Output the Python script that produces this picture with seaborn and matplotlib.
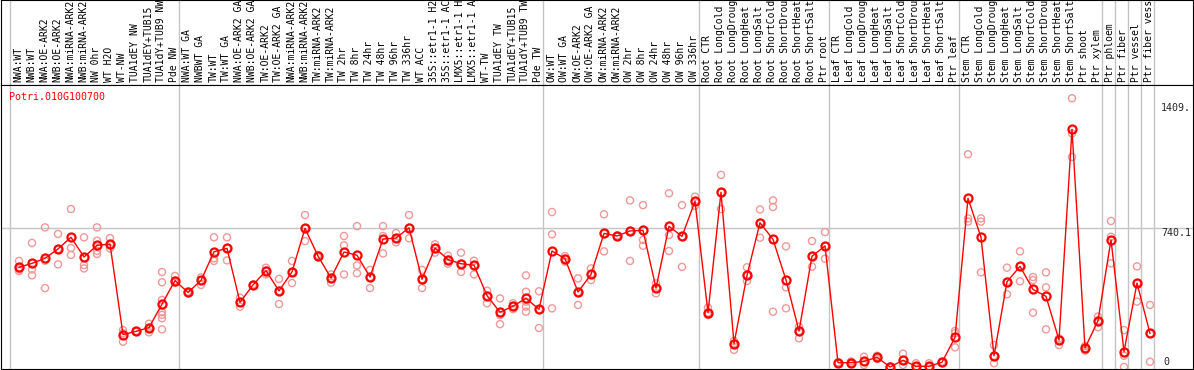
import numpy as np
import pandas as pd
import matplotlib
matplotlib.use("Agg")
import matplotlib.pyplot as plt
import matplotlib.transforms as mtransforms
import seaborn as sns

# ---- data ----
gene = "Potri.010G100700"

# sample names as shown in the header (the source truncates them to 14 characters)
labels = [
    # NW
    "NWA:WT", "NWB:WT", "NWA:OE-ARK2", "NWB:OE-ARK2", "NWA:miRNA-ARK2", "NWB:miRNA-ARK2",
    "NW 0hr", "WT H2O", "WT-NW", "TUA1dEY NW", "TUA1dEY+TUB15", "TUA1dY+TUB9 NW", "Pde NW",
    # TW
    "NWA:WT GA", "NWBWT GA", "TW:WT", "TW:WT GA", "NWA:OE-ARK2 GA", "NWB:OE-ARK2 GA",
    "TW:OE-ARK2", "TW:OE-ARK2 GA", "NWA:miRNA-ARK2", "NWB:miRNA-ARK2", "TW:miRNA-ARK2",
    "TW:miRNA-ARK2", "TW 2hr", "TW 8hr", "TW 24hr", "TW 48hr", "TW 96hr", "TW 336hr",
    "WT ACC", "35S::etr1-1 H2", "35S::etr1-1 AC", "LMX5::etr1-1 H", "LMX5::etr1-1 A",
    "WT-TW", "TUA1dEY TW", "TUA1dEY+TUB15", "TUA1dY+TUB9 TW", "Pde TW",
    # OW
    "OW:WT", "OW:WT GA", "OW:OE-ARK2", "OW:OE-ARK2 GA", "OW:miRNA-ARK2", "OW:miRNA-ARK2",
    "OW 2hr", "OW 8hr", "OW 24hr", "OW 48hr", "OW 96hr", "OW 336hr",
    # Root
    "Root CTR", "Root LongCold", "Root LongDroug", "Root LongHeat", "Root LongSalt",
    "Root ShortCold", "Root ShortDrou", "Root ShortHeat", "Root ShortSalt", "Ptr root",
    # Leaf
    "Leaf CTR", "Leaf LongCold", "Leaf LongDroug", "Leaf LongHeat", "Leaf LongSalt",
    "Leaf ShortCold", "Leaf ShortDrou", "Leaf ShortHeat", "Leaf ShortSalt", "Ptr leaf",
    # Stem
    "Stem CTR", "Stem LongCold", "Stem LongDroug", "Stem LongHeat", "Stem LongSalt",
    "Stem ShortCold", "Stem ShortDrou", "Stem ShortHeat", "Stem ShortSalt", "Ptr shoot",
    "Ptr xylem",
    "Ptr phloem", "Ptr fiber", "Ptr vessel", "Ptr fiber vess",
]
group_sizes = [13, 28, 12, 10, 10, 11, 1, 1, 1, 1]

means = [
    532, 553, 580, 630, 692, 587, 649, 656, 173, 190, 210, 336, 461,
    398, 462, 615, 633, 345, 438, 514, 406, 507, 740, 592, 475, 614, 596, 480,
    683, 688, 743, 468, 635, 573, 551, 543, 381, 292, 325, 366, 308,
    619, 578, 400, 494, 713, 699, 726, 729, 421, 751, 697, 884,
    290, 932, 125, 489, 770, 681, 464, 192, 591, 646,
    23, 23, 30, 52, 0, 36, 4, 4, 25, 158,
    900, 692, 60, 455, 537, 414, 377, 144, 1268, 101, 247,
    678, 82, 448, 179,
]

reps = [
    [566, 521, 512], [662, 521, 489], [745, 567, 421], [710, 630, 548], [843, 635, 598],
    [692, 544, 526], [745, 674, 620, 603], [688, 633, 650], [197, 135, 180], [190, 188, 193],
    [231, 185, 210], [507, 452, 358, 292, 278, 260, 201], [486, 461, 450],
    [402, 393, 398], [478, 462, 438], [692, 580, 566], [692, 633, 569], [370, 345, 322],
    [440, 436, 438], [530, 514, 494], [470, 406, 336], [566, 507, 448], [811, 740, 672],
    [598, 592, 586], [494, 475, 450], [699, 649, 494], [752, 542, 500], [518, 480, 421],
    [752, 699, 606], [715, 688, 665], [811, 743, 687], [518, 468, 421], [655, 635, 610],
    [594, 573, 551], [610, 551, 507], [567, 543, 494], [407, 381, 340], [366, 277, 229],
    [340, 325, 309], [489, 402, 349, 322, 295], [404, 308, 208],
    [827, 708, 313], [592, 578, 562], [473, 400, 331],
    [526, 494, 464], [815, 713, 617], [702, 699, 696], [889, 726, 566], [864, 678, 647],
    [446, 421, 393], [927, 704, 619], [864, 697, 534], [909, 884, 860], [317, 290, 277],
    [1025, 932, 843], [139, 125, 91], [532, 489, 459], [841, 770, 690], [889, 854, 295],
    [644, 425, 313], [215, 192, 153], [672, 591, 535], [720, 646, 578],
    [26, 23, 20], [30, 23, 16], [55, 30, 11], [60, 52, 43], [4, 0, 0], [71, 36, 11],
    [20, 0, 0], [20, 0, 0], [28, 25, 22], [192, 180, 105],
    [1135, 793, 776], [793, 776, 505], [117, 60, 20], [530, 455, 388], [617, 537, 457],
    [480, 464, 290], [505, 425, 201], [153, 144, 117], [1434, 1247, 1121], [112, 101, 87],
    [269, 247, 212], [779, 695, 553], [197, 60, 0], [537, 448, 349], [331, 178, 28],
]

ytick_values = [0, 740.1, 1409.0]
ytick_text = ["0", "740.1", "1409."]

# ---- style ----
sns.set_style("white")
plt.rcParams["font.family"] = ["DejaVu Sans Mono", "DejaVu Sans"]
plt.rcParams["axes.edgecolor"] = "black"

W, H = 1194, 370
fig = plt.figure(figsize=(W / 100, H / 100), dpi=100)


def px_axes(x0, y0, x1, y1):
    return fig.add_axes([x0 / W, 1 - y1 / H, (x1 - x0) / W, (y1 - y0) / H])


ax_lab = px_axes(1, 0, 1193, 85)
ax = px_axes(1, 85, 1193, 369)

# column i sits at pixel 19 + 13 * i
xlim = ((1 - 19) / 13, (1193 - 19) / 13)
for a in (ax, ax_lab):
    a.set_xlim(*xlim)
    a.set_xticks([])
    a.set_yticks([])
    for s in a.spines.values():
        s.set_visible(True)
        s.set_color("black")
        s.set_linewidth(0.8)

ax.set_ylim(-10.7, 1504.8)
ax_lab.set_ylim(0, 1)

grid_c = "#c4c4c4"
bounds = np.concatenate([[0], np.cumsum(group_sizes)])
for b in bounds:
    for a in (ax, ax_lab):
        a.axvline(b - 0.69, color=grid_c, lw=1.0, zorder=0)
ax.axhline(ytick_values[1], color=grid_c, lw=1.0, zorder=0)

# replicates
rep_df = pd.DataFrame(
    [(i, v) for i, vals in enumerate(reps) for v in vals], columns=["sample", "value"]
)
sns.scatterplot(data=rep_df, x="sample", y="value", ax=ax, s=26, facecolor="none",
                edgecolor="#f09898", linewidth=1.0, zorder=2, legend=False)

# means
mean_df = pd.DataFrame({"sample": np.arange(len(means)), "value": means})
sns.lineplot(data=mean_df, x="sample", y="value", ax=ax, color="red", lw=1.0,
             marker="o", ms=5.8, mfc="none", mec="red", mew=1.6, zorder=3)
ax.set_xlabel("")
ax.set_ylabel("")

# sample labels in the header strip
trans_lab = mtransforms.blended_transform_factory(ax_lab.transData, ax_lab.transAxes)
for i, lab in enumerate(labels):
    ax_lab.text(i - 0.05, 0.03, lab, rotation=90, ha="center", va="bottom",
                fontsize=7.0, color="black", transform=trans_lab)

# value labels on the right
for v, txt in zip(ytick_values, ytick_text):
    if v == 0:
        ax.annotate(txt, xy=(87.85, 0), xycoords="data", xytext=(2, 2),
                    textcoords="offset pixels", ha="left", va="baseline", fontsize=7.2)
    else:
        ax.text(87.85, v, txt, ha="left", va="top", fontsize=7.2)

ax.annotate(gene, xy=(0, 1), xycoords="axes fraction", xytext=(8, -7),
            textcoords="offset pixels", ha="left", va="top", color="red", fontsize=7.2)

fig.savefig("out.png", dpi=100)
